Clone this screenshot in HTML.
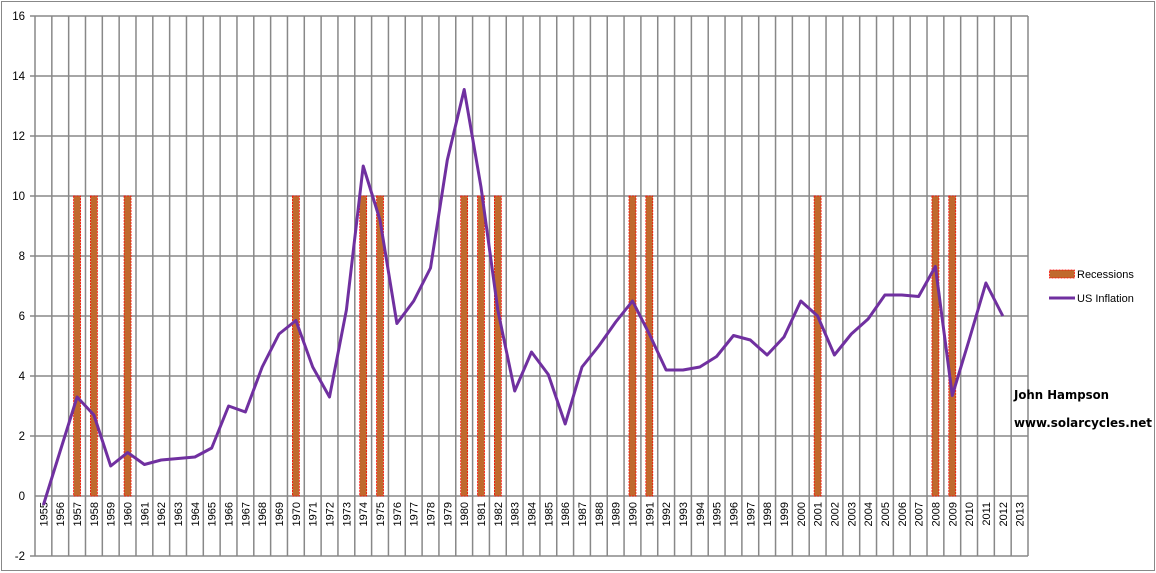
<!DOCTYPE html>
<html><head><meta charset="utf-8"><style>
html,body{margin:0;padding:0;background:#fff;}
svg{display:block;font-family:"Liberation Sans",sans-serif;}
</style></head><body>
<svg id="c" width="1156" height="573" xmlns="http://www.w3.org/2000/svg"></svg>
<script>
var s='';
var L=35,R=1028,N=59,W=(R-L)/N;
function Y(v){return 496-30*v;}
s+='<rect x="1.5" y="1.5" width="1153" height="569" fill="#fff" stroke="#888" stroke-width="1"/>';
for(var v=-2;v<=16;v+=2){var y=Y(v);s+='<line x1="'+(v==0?L:L-5)+'" y1="'+y+'" x2="'+R+'" y2="'+y+'" stroke="#888" stroke-width="1.5"/>';
s+='<text x="25" y="'+(y+4)+'" font-size="11.5" text-anchor="end">'+v+'</text>';}
for(var k=0;k<=N;k++){var x=L+k*W;s+='<line x1="'+x+'" y1="'+Y(16)+'" x2="'+x+'" y2="'+Y(-2)+'" stroke="#888" stroke-width="1.5"/>';}
var rec=[1957,1958,1960,1970,1974,1975,1980,1981,1982,1990,1991,2001,2008,2009];
rec.forEach(function(yr){var cx=L+(yr-1955+0.5)*W;s+='<rect x="'+(cx-3.5)+'" y="'+Y(10)+'" width="7" height="300" fill="#c0692d" stroke="#f00" stroke-width="0.7" stroke-dasharray="2,1"/>';});
for(var k=0;k<N;k++){var cx=L+(k+0.5)*W+4;s+='<text transform="translate('+cx+',502) rotate(-90)" font-size="11" text-anchor="end">'+(1955+k)+'</text>';}
var d=[-0.3,1.5,3.3,2.7,1.0,1.45,1.05,1.2,1.25,1.3,1.6,3.0,2.8,4.3,5.4,5.85,4.3,3.3,6.2,11.0,9.2,5.75,6.5,7.6,11.2,13.55,10.3,6.2,3.5,4.8,4.05,2.4,4.3,5.0,5.8,6.5,5.4,4.2,4.2,4.3,4.65,5.35,5.2,4.7,5.3,6.5,6.0,4.7,5.4,5.9,6.7,6.7,6.65,7.65,3.35,5.2,7.1,6.0];
var p=d.map(function(v,i){return (L+(i+0.5)*W).toFixed(1)+','+Y(v).toFixed(1);}).join(' ');
s+='<polyline points="'+p+'" fill="none" stroke="#7030a0" stroke-width="3" stroke-linejoin="round"/>';
s+='<rect x="1049.5" y="270" width="25" height="8" fill="#c0692d" stroke="#f00" stroke-width="0.7" stroke-dasharray="2,1"/>';
s+='<text x="1077" y="278" font-size="11">Recessions</text>';
s+='<line x1="1049" y1="298" x2="1075" y2="298" stroke="#7030a0" stroke-width="3"/>';
s+='<text x="1077" y="302" font-size="11">US Inflation</text>';
s+='<text x="1014" y="399" font-size="12" font-weight="bold" font-family="DejaVu Sans,sans-serif" textLength="95" lengthAdjust="spacingAndGlyphs">John Hampson</text>';
s+='<text x="1014" y="427" font-size="12" font-weight="bold" font-family="DejaVu Sans,sans-serif" textLength="138" lengthAdjust="spacingAndGlyphs">www.solarcycles.net</text>';
document.getElementById('c').innerHTML=s;
</script>
</body></html>
